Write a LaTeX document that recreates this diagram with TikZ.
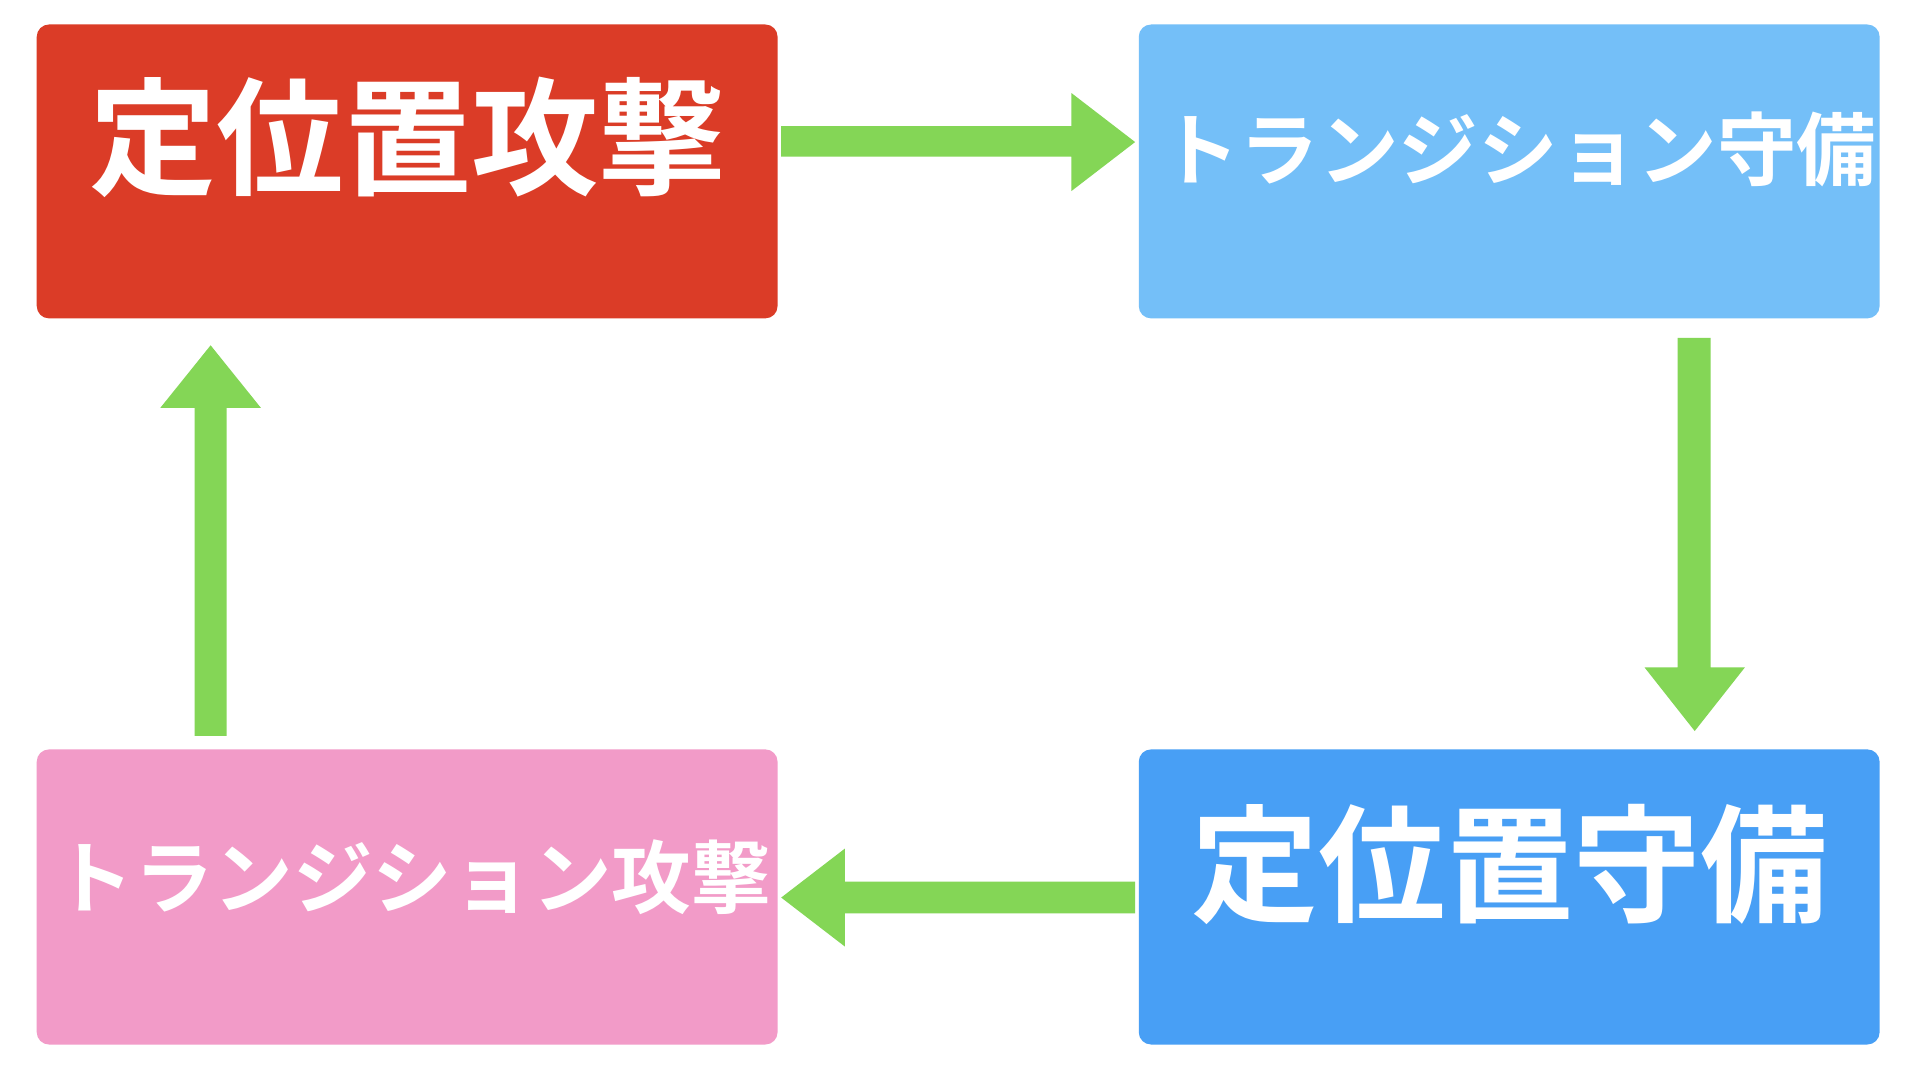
\documentclass[tikz,border=0pt]{standalone}
\usepackage{fontspec}
\newfontfamily\cjk{Noto Sans CJK JP}[BoldFont={Noto Sans CJK JP Bold}]
\definecolor{cred}{HTML}{DB3C27}
\definecolor{clblue}{HTML}{74BFF8}
\definecolor{cblue}{HTML}{489FF5}
\definecolor{cpink}{HTML}{F29BC8}
\definecolor{cgreen}{HTML}{84D656}
\begin{document}
\begin{tikzpicture}[x=1pt,y=-1pt,
  box/.style={rounded corners=10pt},
  big/.style={text=white,font=\cjk\bfseries\fontsize{104}{108}\selectfont,inner sep=0},
  small/.style={text=white,font=\cjk\bfseries\fontsize{65}{70}\selectfont,inner sep=0},
  arr/.style={fill=cgreen}]
\useasboundingbox (0,0) rectangle (1568,879);
\fill[white] (0,0) rectangle (1568,879);
\fill[box,cred] (30,20) rectangle (635,260);
\fill[box,clblue] (930,20) rectangle (1535,260);
\fill[box,cpink] (30,612) rectangle (635,853);
\fill[box,cblue] (930,612) rectangle (1535,853);
\node[big] (a) at (333,112) {定位置攻撃};
\node[small] (b) at (1240,122) {トランジション守備};
\node[big] (c) at (1233,706) {定位置守備};
\node[small] (d) at (337,716) {トランジション攻撃};
% right arrow
\fill[arr] (638,103) -- (875,103) -- (875,76) -- (927,116) -- (875,156) -- (875,128) -- (638,128) -- cycle;
% down arrow
\fill[arr] (1370,276) -- (1397,276) -- (1397,545) -- (1425,545) -- (1384,597) -- (1343,545) -- (1370,545) -- cycle;
% left arrow
\fill[arr] (927,720) -- (690,720) -- (690,693) -- (638,733) -- (690,773) -- (690,746) -- (927,746) -- cycle;
% up arrow
\fill[arr] (159,601) -- (185,601) -- (185,333) -- (213,333) -- (172,282) -- (131,333) -- (159,333) -- cycle;
\end{tikzpicture}
\end{document}
